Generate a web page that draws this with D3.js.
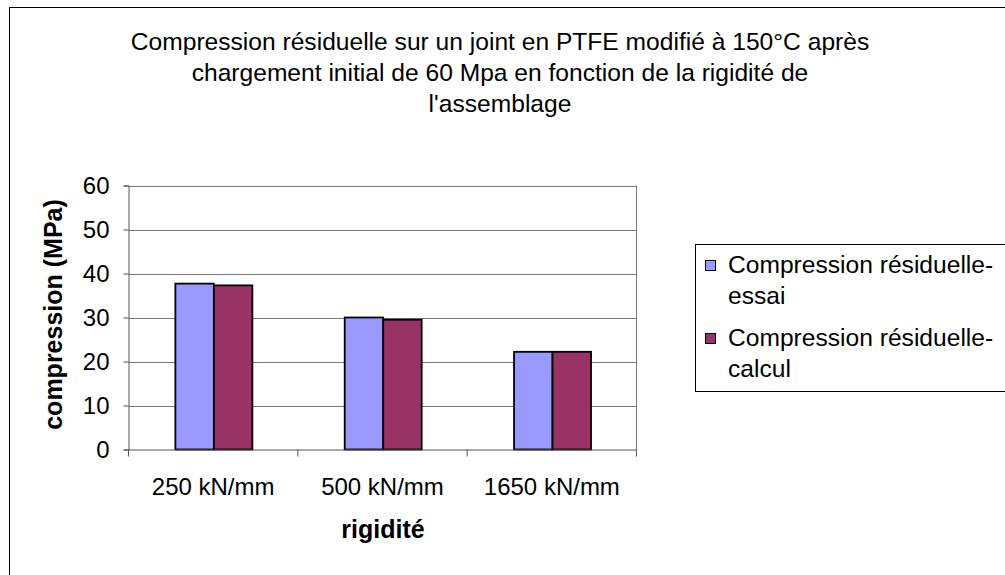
<!DOCTYPE html>
<html><head><meta charset="utf-8">
<script src="https://cdn.jsdelivr.net/npm/d3@7"></script>
<style>body{margin:0;background:#fff;} svg{display:block;font-family:"Liberation Sans",Arial,sans-serif;}</style>
</head><body>
<svg id="c" width="1005" height="575"></svg>
<script>
const categories = ["250 kN/mm", "500 kN/mm", "1650 kN/mm"];
const seriesNames = ["Compression résiduelle-essai", "Compression résiduelle-calcul"];
const essai = [37.7, 30.0, 22.2];
const calcul = [37.3, 29.5, 22.2];
const yTicks = [0, 10, 20, 30, 40, 50, 60];
const titleLines = ["Compression résiduelle sur un joint en PTFE modifié à 150°C après", "chargement initial de 60 Mpa en fonction de la rigidité de", "l'assemblage"];
const legendLines = [["Compression résiduelle-", "essai"], ["Compression résiduelle-", "calcul"]];
const colors = ["#9999FF", "#993366"];

const svg = d3.select("#c");
svg.append("rect").attr("x", 9.5).attr("y", 7.5).attr("width", 1010).attr("height", 600)
  .attr("fill", "#fff").attr("stroke", "#000").attr("stroke-width", 1);

const L = 128.5, R = 636.5, T = 185.5, B = 449.5;
const x0 = d3.scaleBand().domain(categories).range([L, R]);
const x1 = d3.scaleBand().domain([0, 1]).range([0, x0.bandwidth()]).paddingInner(0).paddingOuter(1.2);
const y = d3.scaleLinear().domain([0, 60]).range([B, T]);

// title
svg.append("g").selectAll("text").data(titleLines).join("text")
  .attr("x", 500).attr("y", (d, i) => 50 + i * 31).attr("text-anchor", "middle")
  .attr("font-size", 24.6).attr("fill", "#000").text(d => d);

// gridlines
svg.append("g").selectAll("line").data(yTicks.filter(v => v > 0)).join("line")
  .attr("x1", L).attr("x2", R).attr("y1", d => Math.round(y(d)) + 0.5).attr("y2", d => Math.round(y(d)) + 0.5)
  .attr("stroke", "#777").attr("stroke-width", 1);
svg.append("line").attr("x1", R).attr("x2", R).attr("y1", T).attr("y2", B).attr("stroke", "#777");

// bars
const data = categories.map((c, i) => ({c, v: [essai[i], calcul[i]]}));
const g = svg.append("g").selectAll("g").data(data).join("g")
  .attr("transform", d => `translate(${x0(d.c) + 0.7},0)`);
g.selectAll("rect").data(d => d.v.map((v, k) => ({v, k}))).join("rect")
  .attr("x", d => x1(d.k)).attr("width", x1.bandwidth())
  .attr("y", d => y(d.v)).attr("height", d => B - y(d.v))
  .attr("fill", d => colors[d.k]).attr("stroke", "#000").attr("stroke-width", 1.8);

// y axis
const yAxis = d3.axisLeft(y).tickValues(yTicks).tickSize(5).tickPadding(14);
const ya = svg.append("g").attr("transform", `translate(${L},0)`).call(yAxis);
ya.select(".domain").attr("stroke", "#555");
ya.selectAll(".tick line").attr("stroke", "#555");
ya.selectAll("text").attr("font-size", 24).attr("fill", "#000").attr("font-family", "Liberation Sans, Arial, sans-serif");

// x axis
const xa = svg.append("g").attr("transform", `translate(0,${B})`).call(
  d3.axisBottom(x0).tickSize(0).tickPadding(28.5));
xa.select(".domain").attr("stroke", "#555");
xa.selectAll("text").attr("font-size", 24).attr("fill", "#000").attr("font-family", "Liberation Sans, Arial, sans-serif");
svg.append("g").selectAll("line").data(d3.range(categories.length + 1)).join("line")
  .attr("x1", i => L + i * x0.step()).attr("x2", i => L + i * x0.step())
  .attr("y1", B).attr("y2", B + 7).attr("stroke", "#555");

// axis titles
svg.append("text").attr("transform", `translate(62,${(T + B) / 2 - 3}) rotate(-90)`)
  .attr("text-anchor", "middle").attr("font-size", 25).attr("font-weight", "bold").text("compression (MPa)");
svg.append("text").attr("x", 383).attr("y", 538).attr("text-anchor", "middle")
  .attr("font-size", 25).attr("font-weight", "bold").text("rigidité");

// legend
svg.append("rect").attr("x", 695.5).attr("y", 244.5).attr("width", 330).attr("height", 147)
  .attr("fill", "#fff").attr("stroke", "#000");
const lg = svg.append("g").selectAll("g").data(legendLines).join("g")
  .attr("transform", (d, i) => `translate(0,${i * 73})`);
lg.append("rect").attr("x", 705.5).attr("y", 260.5).attr("width", 10).attr("height", 10)
  .attr("fill", (d, i) => colors[i]).attr("stroke", "#000");
lg.append("text").attr("x", 728).attr("y", 272.7).attr("font-size", 24.6).text(d => d[0]);
lg.append("text").attr("x", 728).attr("y", 304).attr("font-size", 24.6).text(d => d[1]);
</script>
</body></html>
